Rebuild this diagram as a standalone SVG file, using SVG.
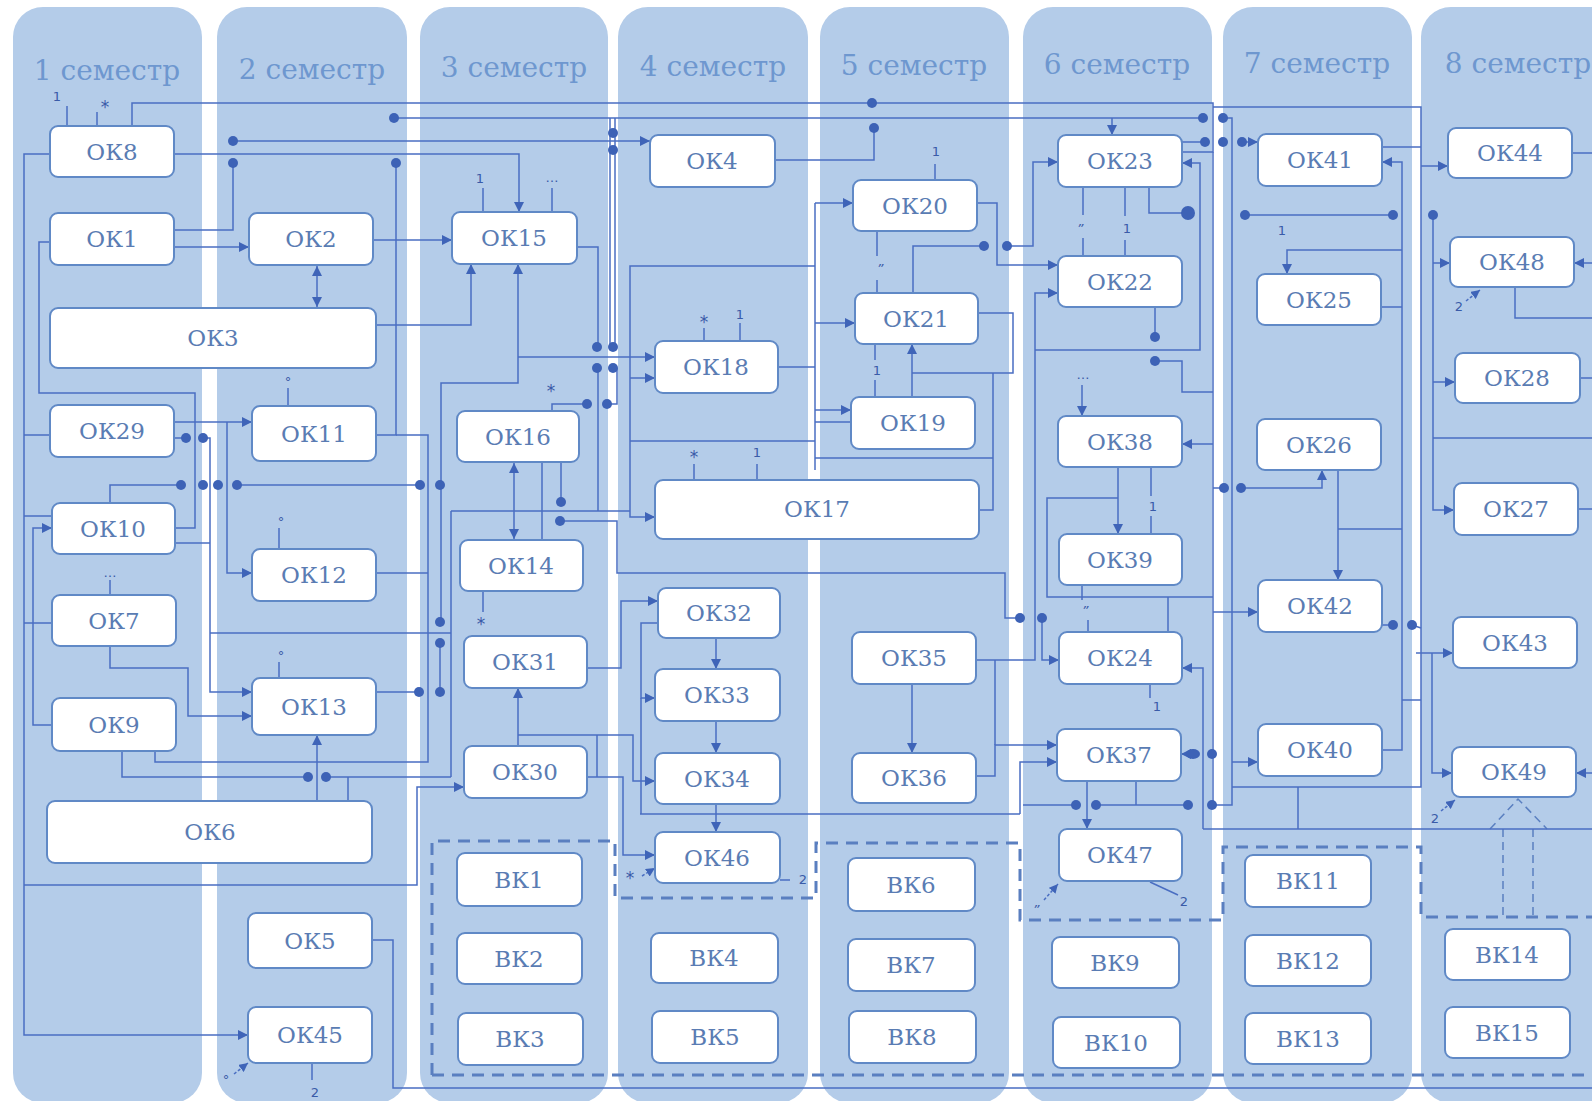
<svg xmlns="http://www.w3.org/2000/svg" width="1592" height="1101" viewBox="0 0 1592 1101">
<style>
.lane{fill:#b4cce9}
.ttl{font-family:"DejaVu Serif",serif;font-size:28px;fill:#6e97cf;text-anchor:middle}
.nd rect{fill:#fff;stroke:#6089c6;stroke-width:2}
.nd text{font-family:"DejaVu Serif",serif;font-size:23px;fill:#5a7cb3;text-anchor:middle}
.c polyline,.c path{fill:none;stroke:#4a6ec2;stroke-width:1.5}
.c .a{marker-end:url(#ah)}
.c .b{marker-start:url(#ahs);marker-end:url(#ah)}
.c .s{marker-end:url(#ahs2);stroke-dasharray:3 2}
.dot{fill:#3d62b6}
.lb{font-family:"DejaVu Sans",sans-serif;font-size:13px;fill:#3a5ba8;text-anchor:middle}
.dash{fill:none;stroke:#5a7fc0;stroke-width:3;stroke-dasharray:12 8}
.tdash{fill:none;stroke:#5a7fc0;stroke-width:1.5;stroke-dasharray:8 5}
</style>
<defs>
<marker id="ah" viewBox="0 0 10 10" refX="10" refY="5" markerWidth="11" markerHeight="10" markerUnits="userSpaceOnUse" orient="auto"><path d="M0,0L10,5L0,10z" fill="#3f64b8"/></marker>
<marker id="ahs" viewBox="0 0 10 10" refX="10" refY="5" markerWidth="11" markerHeight="10" markerUnits="userSpaceOnUse" orient="auto-start-reverse"><path d="M0,0L10,5L0,10z" fill="#3f64b8"/></marker>
<marker id="ahs2" viewBox="0 0 10 10" refX="10" refY="5" markerWidth="9" markerHeight="9" markerUnits="userSpaceOnUse" orient="auto"><path d="M0,0L10,5L0,10z" fill="#3f64b8"/></marker>
</defs>
<rect width="1592" height="1101" fill="#fff"/>
<g id="lanes">
<rect class="lane" x="13" y="7" width="189" height="1096" rx="30"/>
<rect class="lane" x="217" y="7" width="190" height="1096" rx="30"/>
<rect class="lane" x="420" y="7" width="188" height="1096" rx="30"/>
<rect class="lane" x="618" y="7" width="190" height="1096" rx="30"/>
<rect class="lane" x="820" y="7" width="189" height="1096" rx="30"/>
<rect class="lane" x="1023" y="7" width="189" height="1096" rx="30"/>
<rect class="lane" x="1223" y="7" width="189" height="1096" rx="30"/>
<rect class="lane" x="1421" y="7" width="230" height="1096" rx="30"/>
<text class="ttl" x="107" y="80">1 семестр</text>
<text class="ttl" x="312" y="79">2 семестр</text>
<text class="ttl" x="514" y="77">3 семестр</text>
<text class="ttl" x="713" y="76">4 семестр</text>
<text class="ttl" x="914" y="75">5 семестр</text>
<text class="ttl" x="1117" y="74">6 семестр</text>
<text class="ttl" x="1317" y="73">7 семестр</text>
<text class="ttl" x="1518" y="73">8 семестр</text>
</g>
<g id="dashed">
<path class="dash" d="M432,1075V841H615V898H816V843H1020V920H1223V847H1421V917H1592"/>
<path class="dash" d="M432,1075H1592"/>
<path class="tdash" d="M1490,829L1518,799L1547,829M1503,829V917M1533,829V917"/>
</g>
<g id="connectors" class="c">
<polyline class="a" points="50,154 24,154 24,1035 248,1035"/>
<polyline points="24,435 50,435"/>
<polyline points="24,516 52,516"/>
<polyline points="24,623 52,623"/>
<polyline class="a" points="24,885 417,885 417,787 464,787"/>
<polyline points="50,242 39,242 39,393 195,393 195,528 175,528"/>
<polyline class="a" points="52,725 33,725 33,528 52,528"/>
<polyline points="67,126 67,106"/>
<polyline points="97,126 97,112"/>
<polyline points="132,126 132,103 1213,103 1213,152 1182,152"/>
<polyline points="1213,107 1421,107 1421,787 1232,787"/>
<polyline points="394,118 1203,118"/>
<polyline class="a" points="1112,118 1112,135"/>
<polyline points="1223,118 1232,118 1232,805 1212,805"/>
<polyline class="a" points="233,141 650,141"/>
<polyline class="a" points="174,154 519,154 519,212"/>
<polyline points="174,230 233,230 233,163"/>
<polyline points="376,435 396,435 396,163"/>
<polyline points="396,435 428,435 428,762 155,762 155,751"/>
<polyline class="a" points="174,247 249,247"/>
<polyline class="b" points="317,266 317,307"/>
<polyline class="a" points="373,240 452,240"/>
<polyline class="a" points="376,325 471,325 471,264"/>
<polyline class="a" points="518,357 655,357"/>
<polyline class="a" points="441,622 441,383 518,383 518,264"/>
<polyline points="577,247 598,247 598,347"/>
<polyline points="610,118 610,347"/>
<polyline points="615,118 615,347"/>
<polyline points="775,160 874,160 874,128"/>
<polyline class="a" points="815,266 630,266 630,517 655,517"/>
<polyline class="a" points="630,378 655,378"/>
<polyline points="815,203 815,470"/>
<polyline class="a" points="815,203 853,203"/>
<polyline class="a" points="815,323 855,323"/>
<polyline points="778,367 815,367"/>
<polyline points="630,441 815,441"/>
<polyline class="a" points="815,410 851,410"/>
<polyline points="815,422 851,422"/>
<polyline points="815,458 993,458"/>
<polyline points="935,180 935,164"/>
<polyline points="877,231 877,256"/>
<polyline points="877,280 877,293"/>
<polyline points="913,293 913,246 984,246"/>
<polyline class="a" points="1007,246 1033,246 1033,162 1058,162"/>
<polyline class="a" points="977,203 997,203 997,265 1058,265"/>
<polyline points="978,313 1013,313 1013,373 912,373"/>
<polyline class="a" points="912,397 912,344"/>
<polyline points="993,373 993,510 979,510"/>
<polyline points="875,344 875,360"/>
<polyline points="875,380 875,397"/>
<polyline class="a" points="976,660 1035,660 1035,293 1058,293"/>
<polyline class="a" points="1035,350 1200,350 1200,163 1182,163"/>
<polyline points="1182,142 1205,142"/>
<polyline class="a" points="1242,142 1258,142"/>
<polyline points="1083,187 1083,215"/>
<polyline points="1083,238 1083,256"/>
<polyline points="1125,187 1125,216"/>
<polyline points="1125,240 1125,256"/>
<polyline points="1149,187 1149,213 1188,213"/>
<polyline points="1155,307 1155,337"/>
<polyline points="1155,361 1182,361 1182,392 1213,392"/>
<polyline points="1213,152 1213,805"/>
<polyline class="a" points="1082,385 1082,416"/>
<polyline class="a" points="1213,444 1182,444"/>
<polyline class="a" points="1118,467 1118,534"/>
<polyline points="1151,467 1151,496"/>
<polyline points="1151,516 1151,534"/>
<polyline points="1118,498 1047,498 1047,597 1213,597"/>
<polyline points="1082,585 1082,600"/>
<polyline points="1088,620 1088,632"/>
<polyline points="1168,597 1168,632"/>
<polyline points="1150,684 1150,698"/>
<polyline points="560,521 617,521 617,573 1005,573 1005,618 1020,618"/>
<polyline class="a" points="1042,618 1042,660 1059,660"/>
<polyline points="995,660 995,745"/>
<polyline class="a" points="976,776 995,776 995,745 1057,745"/>
<polyline class="a" points="1020,814 1020,762 1057,762"/>
<polyline points="640,814 1020,814"/>
<polyline class="a" points="912,684 912,753"/>
<polyline class="a" points="1087,781 1087,829"/>
<polyline points="1136,781 1136,805"/>
<polyline points="1023,805 1076,805"/>
<polyline points="1096,805 1188,805"/>
<polyline class="a" points="1192,754 1181,754"/>
<polyline class="a" points="1232,762 1258,762"/>
<polyline class="a" points="1382,750 1402,750 1402,162 1382,162"/>
<polyline points="1298,787 1298,829"/>
<polyline points="1203,829 1592,829"/>
<polyline class="a" points="1203,829 1203,668 1182,668"/>
<polyline points="1382,147 1421,147"/>
<polyline class="a" points="1421,166 1448,166"/>
<polyline points="1245,215 1393,215"/>
<polyline class="a" points="1402,250 1287,250 1287,274"/>
<polyline points="1381,307 1402,307"/>
<polyline class="a" points="1433,215 1433,510 1454,510"/>
<polyline class="a" points="1433,263 1450,263"/>
<polyline class="a" points="1433,382 1455,382"/>
<polyline points="1433,438 1592,438"/>
<polyline points="1572,153 1592,153"/>
<polyline class="a" points="1592,263 1574,263"/>
<polyline points="1515,287 1515,318 1592,318"/>
<polyline points="1580,378 1592,378"/>
<polyline points="1578,509 1592,509"/>
<polyline class="a" points="1592,773 1576,773"/>
<polyline points="1213,488 1224,488"/>
<polyline class="a" points="1241,488 1322,488 1322,470"/>
<polyline class="a" points="1338,470 1338,580"/>
<polyline points="1338,529 1402,529"/>
<polyline class="a" points="1213,612 1258,612"/>
<polyline points="1382,625 1393,625"/>
<polyline points="1412,625 1421,628"/>
<polyline class="a" points="1416,653 1453,653"/>
<polyline class="a" points="1432,653 1432,773 1452,773"/>
<polyline points="1402,700 1421,700"/>
<polyline class="a" points="174,422 252,422"/>
<polyline class="a" points="227,422 227,573 252,573"/>
<polyline points="174,438 186,438"/>
<polyline class="a" points="203,438 210,438 210,692 252,692"/>
<polyline points="175,543 210,543"/>
<polyline points="110,503 110,485 181,485"/>
<polyline points="237,485 420,485"/>
<polyline class="a" points="110,646 110,668 188,668 188,716 252,716"/>
<polyline points="210,633 451,633"/>
<polyline points="376,573 428,573"/>
<polyline points="376,692 419,692"/>
<polyline points="440,643 440,692"/>
<polyline class="a" points="317,801 317,735"/>
<polyline points="122,751 122,777 308,777"/>
<polyline points="326,777 451,777"/>
<polyline points="348,777 348,801"/>
<polyline points="372,940 393,940 393,1088 1592,1088"/>
<polyline points="451,511 451,777"/>
<polyline points="451,511 630,511"/>
<polyline points="598,368 598,511"/>
<polyline points="552,411 552,404 587,404"/>
<polyline points="607,404 617,404 617,368"/>
<polyline class="b" points="514,463 514,539"/>
<polyline points="542,462 542,540"/>
<polyline points="561,462 561,502"/>
<polyline points="483,591 483,612"/>
<polyline class="a" points="587,668 621,668 621,601 658,601"/>
<polyline class="a" points="658,623 641,623 641,698 655,698"/>
<polyline points="641,698 641,814"/>
<polyline class="a" points="716,638 716,669"/>
<polyline class="a" points="716,721 716,753"/>
<polyline class="a" points="716,804 716,832"/>
<polyline class="a" points="518,746 518,688"/>
<polyline class="a" points="518,735 633,735 633,781 655,781"/>
<polyline points="597,735 597,777"/>
<polyline class="a" points="587,777 623,777 623,855 655,855"/>
<polyline points="780,880 790,880"/>
<polyline points="694,480 694,464"/>
<polyline points="757,480 757,464"/>
<polyline points="704,341 704,328"/>
<polyline points="740,341 740,323"/>
<polyline points="483,212 483,188"/>
<polyline points="552,212 552,188"/>
<polyline points="288,406 288,388"/>
<polyline points="279,549 279,528"/>
<polyline points="279,678 279,662"/>
<polyline points="312,1063 312,1080"/>
<polyline points="110,595 110,580"/>
<polyline points="1150,882 1178,895"/>
<polyline class="s" points="234,1074 248,1063"/>
<polyline class="s" points="1466,301 1480,290"/>
<polyline class="s" points="1441,811 1455,800"/>
<polyline class="s" points="642,876 655,868"/>
<polyline class="s" points="1044,900 1058,884"/>
</g>
<g id="dots" class="dot">
<circle cx="872" cy="103" r="5"/>
<circle cx="394" cy="118" r="5"/>
<circle cx="1203" cy="118" r="5"/>
<circle cx="1223" cy="118" r="5"/>
<circle cx="233" cy="141" r="5"/>
<circle cx="233" cy="163" r="5"/>
<circle cx="396" cy="163" r="5"/>
<circle cx="613" cy="133" r="5"/>
<circle cx="613" cy="150" r="5"/>
<circle cx="597" cy="347" r="5"/>
<circle cx="613" cy="347" r="5"/>
<circle cx="597" cy="368" r="5"/>
<circle cx="613" cy="368" r="5"/>
<circle cx="874" cy="128" r="5"/>
<circle cx="984" cy="246" r="5"/>
<circle cx="1007" cy="246" r="5"/>
<circle cx="1205" cy="142" r="5"/>
<circle cx="1223" cy="142" r="5"/>
<circle cx="1242" cy="142" r="5"/>
<circle cx="1188" cy="213" r="7"/>
<circle cx="1155" cy="337" r="5"/>
<circle cx="1155" cy="361" r="5"/>
<circle cx="1020" cy="618" r="5"/>
<circle cx="1042" cy="618" r="5"/>
<circle cx="560" cy="521" r="5"/>
<circle cx="561" cy="502" r="5"/>
<circle cx="587" cy="404" r="5"/>
<circle cx="607" cy="404" r="5"/>
<circle cx="1076" cy="805" r="5"/>
<circle cx="1096" cy="805" r="5"/>
<circle cx="1188" cy="805" r="5"/>
<circle cx="1212" cy="805" r="5"/>
<ellipse cx="1193" cy="754" rx="7" ry="5"/>
<circle cx="1212" cy="754" r="5"/>
<circle cx="1245" cy="215" r="5"/>
<circle cx="1393" cy="215" r="5"/>
<circle cx="1433" cy="215" r="5"/>
<circle cx="1224" cy="488" r="5"/>
<circle cx="1241" cy="488" r="5"/>
<circle cx="1393" cy="625" r="5"/>
<circle cx="1412" cy="625" r="5"/>
<circle cx="186" cy="438" r="5"/>
<circle cx="203" cy="438" r="5"/>
<circle cx="181" cy="485" r="5"/>
<circle cx="203" cy="485" r="5"/>
<circle cx="218" cy="485" r="5"/>
<circle cx="237" cy="485" r="5"/>
<circle cx="420" cy="485" r="5"/>
<circle cx="440" cy="485" r="5"/>
<circle cx="440" cy="622" r="5"/>
<circle cx="440" cy="643" r="5"/>
<circle cx="419" cy="692" r="5"/>
<circle cx="440" cy="692" r="5"/>
<circle cx="308" cy="777" r="5"/>
<circle cx="326" cy="777" r="5"/>
</g>
<g id="labels" class="lb">
<text x="57" y="101">1</text>
<text x="105" y="113" font-size="17">*</text>
<text x="480" y="183">1</text>
<text x="552" y="182">…</text>
<text x="288" y="386">°</text>
<text x="281" y="526">°</text>
<text x="281" y="660">°</text>
<text x="110" y="577">…</text>
<text x="551" y="397" font-size="17">*</text>
<text x="481" y="630" font-size="17">*</text>
<text x="704" y="328" font-size="17">*</text>
<text x="740" y="319">1</text>
<text x="694" y="463" font-size="17">*</text>
<text x="757" y="457">1</text>
<text x="936" y="156">1</text>
<text x="880" y="273" font-style="italic">”</text>
<text x="877" y="375">1</text>
<text x="1080" y="233" font-style="italic">”</text>
<text x="1127" y="233">1</text>
<text x="1083" y="379">…</text>
<text x="1153" y="511">1</text>
<text x="1085" y="615" font-style="italic">”</text>
<text x="1157" y="711">1</text>
<text x="1282" y="235">1</text>
<text x="1459" y="311">2</text>
<text x="1435" y="823">2</text>
<text x="630" y="884" font-size="17">*</text>
<text x="803" y="884">2</text>
<text x="1184" y="906">2</text>
<text x="1036" y="914" font-style="italic">”</text>
<text x="226" y="1084">°</text>
<text x="315" y="1097">2</text>
</g>
<g id="nodes" class="nd">
<g id="OK8"><rect x="50" y="126" width="124" height="51" rx="8"/><text x="112" y="160">ОК8</text></g>
<g id="OK1"><rect x="50" y="213" width="124" height="52" rx="8"/><text x="112" y="247">ОК1</text></g>
<g id="OK2"><rect x="249" y="213" width="124" height="52" rx="8"/><text x="311" y="247">ОК2</text></g>
<g id="OK3"><rect x="50" y="308" width="326" height="60" rx="8"/><text x="213" y="346">ОК3</text></g>
<g id="OK29"><rect x="50" y="405" width="124" height="52" rx="8"/><text x="112" y="439">ОК29</text></g>
<g id="OK11"><rect x="252" y="406" width="124" height="55" rx="8"/><text x="314" y="442">ОК11</text></g>
<g id="OK10"><rect x="52" y="503" width="123" height="51" rx="8"/><text x="113" y="537">ОК10</text></g>
<g id="OK12"><rect x="252" y="549" width="124" height="52" rx="8"/><text x="314" y="583">ОК12</text></g>
<g id="OK7"><rect x="52" y="595" width="124" height="51" rx="8"/><text x="114" y="629">ОК7</text></g>
<g id="OK13"><rect x="252" y="678" width="124" height="57" rx="8"/><text x="314" y="715">ОК13</text></g>
<g id="OK9"><rect x="52" y="698" width="124" height="53" rx="8"/><text x="114" y="733">ОК9</text></g>
<g id="OK6"><rect x="47" y="801" width="325" height="62" rx="8"/><text x="210" y="840">ОК6</text></g>
<g id="OK5"><rect x="248" y="913" width="124" height="55" rx="8"/><text x="310" y="949">ОК5</text></g>
<g id="OK45"><rect x="248" y="1007" width="124" height="56" rx="8"/><text x="310" y="1043">ОК45</text></g>
<g id="OK15"><rect x="452" y="212" width="125" height="52" rx="8"/><text x="514" y="246">ОК15</text></g>
<g id="OK4"><rect x="650" y="135" width="125" height="52" rx="8"/><text x="712" y="169">ОК4</text></g>
<g id="OK18"><rect x="655" y="341" width="123" height="52" rx="8"/><text x="716" y="375">ОК18</text></g>
<g id="OK16"><rect x="457" y="411" width="122" height="51" rx="8"/><text x="518" y="445">ОК16</text></g>
<g id="OK14"><rect x="460" y="540" width="123" height="51" rx="8"/><text x="521" y="574">ОК14</text></g>
<g id="OK31"><rect x="464" y="636" width="123" height="52" rx="8"/><text x="525" y="670">ОК31</text></g>
<g id="OK30"><rect x="464" y="746" width="123" height="52" rx="8"/><text x="525" y="780">ОК30</text></g>
<g id="BK1"><rect x="457" y="853" width="125" height="53" rx="8"/><text x="519" y="888">ВК1</text></g>
<g id="BK2"><rect x="457" y="933" width="125" height="51" rx="8"/><text x="519" y="967">ВК2</text></g>
<g id="BK3"><rect x="458" y="1013" width="125" height="52" rx="8"/><text x="520" y="1047">ВК3</text></g>
<g id="OK17"><rect x="655" y="480" width="324" height="59" rx="8"/><text x="817" y="517">ОК17</text></g>
<g id="OK32"><rect x="658" y="588" width="122" height="50" rx="8"/><text x="719" y="621">ОК32</text></g>
<g id="OK33"><rect x="655" y="669" width="125" height="52" rx="8"/><text x="717" y="703">ОК33</text></g>
<g id="OK34"><rect x="655" y="753" width="125" height="51" rx="8"/><text x="717" y="787">ОК34</text></g>
<g id="OK46"><rect x="655" y="832" width="125" height="51" rx="8"/><text x="717" y="866">ОК46</text></g>
<g id="BK4"><rect x="651" y="933" width="127" height="50" rx="8"/><text x="714" y="966">ВК4</text></g>
<g id="BK5"><rect x="652" y="1011" width="126" height="52" rx="8"/><text x="715" y="1045">ВК5</text></g>
<g id="OK20"><rect x="853" y="180" width="124" height="51" rx="8"/><text x="915" y="214">ОК20</text></g>
<g id="OK21"><rect x="855" y="293" width="123" height="51" rx="8"/><text x="916" y="327">ОК21</text></g>
<g id="OK19"><rect x="851" y="397" width="124" height="52" rx="8"/><text x="913" y="431">ОК19</text></g>
<g id="OK35"><rect x="852" y="632" width="124" height="52" rx="8"/><text x="914" y="666">ОК35</text></g>
<g id="OK36"><rect x="852" y="753" width="124" height="50" rx="8"/><text x="914" y="786">ОК36</text></g>
<g id="BK6"><rect x="848" y="858" width="127" height="53" rx="8"/><text x="911" y="893">ВК6</text></g>
<g id="BK7"><rect x="848" y="939" width="127" height="52" rx="8"/><text x="911" y="973">ВК7</text></g>
<g id="BK8"><rect x="849" y="1011" width="127" height="52" rx="8"/><text x="912" y="1045">ВК8</text></g>
<g id="OK23"><rect x="1058" y="135" width="124" height="52" rx="8"/><text x="1120" y="169">ОК23</text></g>
<g id="OK22"><rect x="1058" y="256" width="124" height="51" rx="8"/><text x="1120" y="290">ОК22</text></g>
<g id="OK38"><rect x="1058" y="416" width="124" height="51" rx="8"/><text x="1120" y="450">ОК38</text></g>
<g id="OK39"><rect x="1059" y="534" width="123" height="51" rx="8"/><text x="1120" y="568">ОК39</text></g>
<g id="OK24"><rect x="1059" y="632" width="123" height="52" rx="8"/><text x="1120" y="666">ОК24</text></g>
<g id="OK37"><rect x="1057" y="729" width="124" height="52" rx="8"/><text x="1119" y="763">ОК37</text></g>
<g id="OK47"><rect x="1059" y="829" width="123" height="52" rx="8"/><text x="1120" y="863">ОК47</text></g>
<g id="BK9"><rect x="1052" y="937" width="127" height="51" rx="8"/><text x="1115" y="971">ВК9</text></g>
<g id="BK10"><rect x="1053" y="1017" width="127" height="51" rx="8"/><text x="1116" y="1051">ВК10</text></g>
<g id="OK41"><rect x="1258" y="134" width="124" height="52" rx="8"/><text x="1320" y="168">ОК41</text></g>
<g id="OK25"><rect x="1257" y="274" width="124" height="51" rx="8"/><text x="1319" y="308">ОК25</text></g>
<g id="OK26"><rect x="1257" y="419" width="124" height="51" rx="8"/><text x="1319" y="453">ОК26</text></g>
<g id="OK42"><rect x="1258" y="580" width="124" height="52" rx="8"/><text x="1320" y="614">ОК42</text></g>
<g id="OK40"><rect x="1258" y="724" width="124" height="52" rx="8"/><text x="1320" y="758">ОК40</text></g>
<g id="BK11"><rect x="1245" y="855" width="126" height="52" rx="8"/><text x="1308" y="889">ВК11</text></g>
<g id="BK12"><rect x="1245" y="935" width="126" height="51" rx="8"/><text x="1308" y="969">ВК12</text></g>
<g id="BK13"><rect x="1245" y="1013" width="126" height="51" rx="8"/><text x="1308" y="1047">ВК13</text></g>
<g id="OK44"><rect x="1448" y="128" width="124" height="50" rx="8"/><text x="1510" y="161">ОК44</text></g>
<g id="OK48"><rect x="1450" y="237" width="124" height="50" rx="8"/><text x="1512" y="270">ОК48</text></g>
<g id="OK28"><rect x="1455" y="353" width="125" height="50" rx="8"/><text x="1517" y="386">ОК28</text></g>
<g id="OK27"><rect x="1454" y="483" width="124" height="52" rx="8"/><text x="1516" y="517">ОК27</text></g>
<g id="OK43"><rect x="1453" y="617" width="124" height="51" rx="8"/><text x="1515" y="651">ОК43</text></g>
<g id="OK49"><rect x="1452" y="747" width="124" height="50" rx="8"/><text x="1514" y="780">ОК49</text></g>
<g id="BK14"><rect x="1445" y="929" width="125" height="51" rx="8"/><text x="1507" y="963">ВК14</text></g>
<g id="BK15"><rect x="1445" y="1007" width="125" height="51" rx="8"/><text x="1507" y="1041">ВК15</text></g>
</g>
</svg>
